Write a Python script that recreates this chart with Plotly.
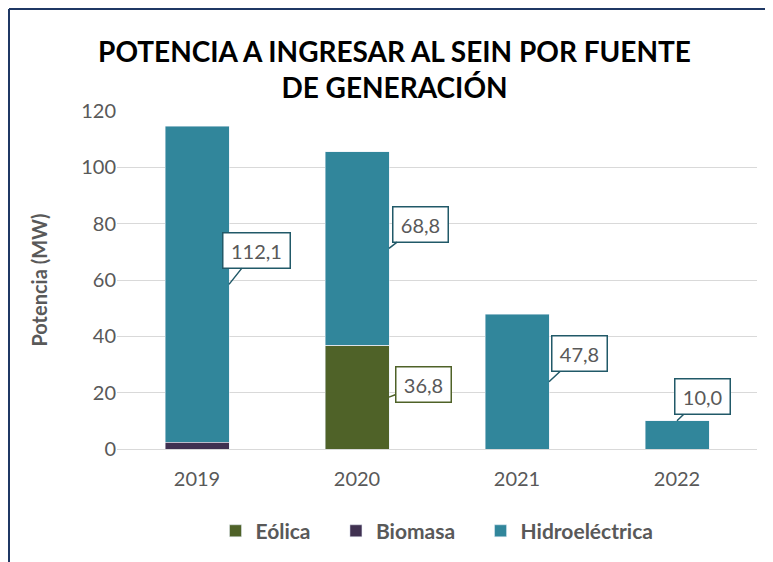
import plotly.graph_objects as go

years = ["2019", "2020", "2021", "2022"]
eolica = [0, 36.8, 0, 0]
biomasa = [2.4, 0, 0, 0]
hidro = [112.1, 68.8, 47.8, 10.0]
y_ticks = [0, 20, 40, 60, 80, 100, 120]
series_names = ["Eólica", "Biomasa", "Hidroeléctrica"]

C_EOL = "#4F6228"
C_BIO = "#403151"
C_HID = "#31869B"
GRAY = "#595959"
FONT = "Lato"
PAD = "\u00a0" * 4

# plot-area geometry in figure pixels
L, R, T, B = 109, 24, 103, 121
PW, PH = 773 - L - R, 562 - T - B

fig = go.Figure()
fig.add_trace(go.Bar(name=series_names[0] + PAD, x=years, y=eolica, marker_color=C_EOL))
fig.add_trace(go.Bar(name=series_names[1] + PAD, x=years, y=biomasa, marker_color=C_BIO))
fig.add_trace(go.Bar(name=series_names[2], x=years, y=hidro, marker_color=C_HID))

# callouts
callouts = [
    # (index, value, y point, x offset in categories, ax, ay, border)
    (0, hidro[0], biomasa[0] + hidro[0] / 2, 0.2, 27, -34, "#215968"),
    (1, hidro[1], eolica[1] + hidro[1] / 2, 0.2, 31, -24, "#215968"),
    (1, eolica[1], eolica[1] / 2, 0.2, 34, -13, C_EOL),
    (2, hidro[2], hidro[2] / 2, 0.2, 30, -28, "#215968"),
    (3, hidro[3], hidro[3], 0.0, 25, -24, "#215968"),
]
for idx, val, yp, dx, ax, ay, bc in callouts:
    txt = f"{val:.1f}".replace(".", ",")
    fig.add_annotation(
        x=idx + dx, y=yp, xref="x", yref="y",
        text=txt,
        showarrow=True, arrowhead=0, arrowwidth=1.5, arrowcolor=bc,
        ax=ax, ay=ay,
        width=12 * len(txt) - 2, height=26,
        bgcolor="white", bordercolor=bc, borderwidth=1.5, borderpad=4,
        font=dict(family=FONT, size=20, color=GRAY),
    )

# outer frame (top and left edges)
fx = (1 - L) / PW
fy = (PH + T - 1) / PH
fig.add_shape(type="line", xref="paper", yref="paper",
              x0=fx, x1=1.2, y0=fy, y1=fy,
              line=dict(color="#1F3864", width=2))
fig.add_shape(type="line", xref="paper", yref="paper",
              x0=fx, x1=fx, y0=fy, y1=-0.5,
              line=dict(color="#1F3864", width=2))

fig.update_layout(
    barmode="stack",
    bargap=0.6,
    width=773, height=562,
    margin=dict(l=L, r=R, t=T, b=B),
    paper_bgcolor="white", plot_bgcolor="white",
    font=dict(family=FONT, color=GRAY),
    title=dict(
        text="<b>POTENCIA A INGRESAR AL SEIN POR FUENTE<br>DE GENERACIÓN</b>",
        x=0.5, xanchor="center", y=1 - 54 / 562, yanchor="middle",
        font=dict(family=FONT, size=28, color="black"),
    ),
    legend=dict(
        orientation="h", x=0.5, xanchor="center", y=-0.243, yanchor="middle",
        font=dict(family=FONT, size=21, color=GRAY, weight="bold"),
        traceorder="normal", itemwidth=30,
    ),
    showlegend=True,
)
fig.update_yaxes(
    range=[0, 120], tickvals=y_ticks, showgrid=True, gridcolor="#D9D9D9", gridwidth=1,
    zeroline=False, showline=False, ticks="",
    tickfont=dict(family=FONT, size=20, color=GRAY),
    title=dict(text="<b>Potencia (MW)</b>", font=dict(family=FONT, size=20, color=GRAY), standoff=28),
)
fig.update_xaxes(
    showline=True, linecolor="#D9D9D9", linewidth=1,
    ticks="outside", ticklen=12, tickcolor="rgba(0,0,0,0)",
    tickfont=dict(family=FONT, size=20, color=GRAY),
)

fig.write_html("out.html")
